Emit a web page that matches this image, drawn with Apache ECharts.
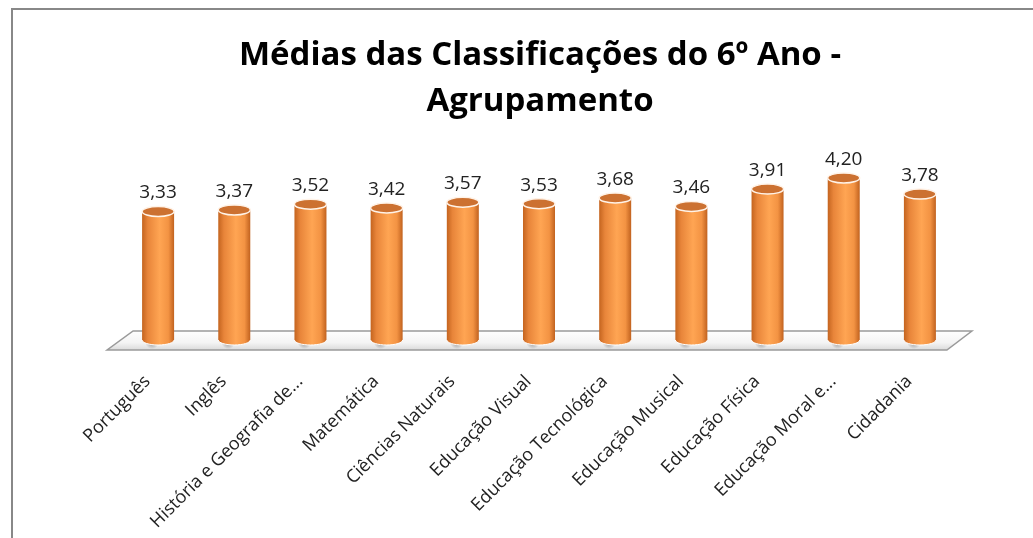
<!DOCTYPE html>
<html>
<head>
<meta charset="utf-8">
<script src="https://cdn.jsdelivr.net/npm/echarts@6/dist/echarts.min.js"></script>
<style>
  html, body { margin: 0; padding: 0; background: #fff; }
  #chart { width: 1033px; height: 538px; }
</style>
</head>
<body>
<div id="chart"></div>
<script>
// dados do gráfico
var disciplinas = ['Português', 'Inglês', 'História e Geografia de...', 'Matemática',
  'Ciências Naturais', 'Educação Visual', 'Educação Tecnológica', 'Educação Musical',
  'Educação Física', 'Educação Moral e...', 'Cidadania'];
var medias = [3.33, 3.37, 3.52, 3.42, 3.57, 3.53, 3.68, 3.46, 3.91, 4.20, 3.78];

var fonte = '"Open Sans", "Noto Sans", sans-serif';
var chart = echarts.init(document.getElementById('chart'));

var dados = medias.map(function (v, i) { return [i, v]; });

function desenhaCilindro(params, api) {
  var i = api.value(0), v = api.value(1);
  var topo = api.coord([i, v]);
  var base = api.coord([i, 0]);
  var w = 32, rx = w / 2, ry = 5;
  var filhos = [];

  // chão 3D (só uma vez)
  if (params.dataIndex === 0) {
    var p0 = api.coord([0, 0]);
    var pN = api.coord([disciplinas.length - 1, 0]);
    var yf = p0[1] + 10, yt = p0[1] - 9;
    filhos.push({
      type: 'polygon',
      shape: { points: [[p0[0] - 51, yf], [pN[0] + 27, yf], [pN[0] + 52, yt], [p0[0] - 25, yt]] },
      style: {
        fill: new echarts.graphic.LinearGradient(0, 0, 0, 1, [
          { offset: 0, color: '#ffffff' },
          { offset: 0.6, color: '#f4f4f4' },
          { offset: 1, color: '#d8d8d8' }
        ]),
        stroke: '#9a9a9a', lineWidth: 1.5
      }
    });
  }

  // sombra na base
  filhos.push({
    type: 'ellipse',
    shape: { cx: base[0] - 6, cy: base[1] + 2, rx: 44, ry: 7 },
    style: {
      fill: new echarts.graphic.RadialGradient(0.5, 0.5, 0.5, [
        { offset: 0, color: 'rgba(0,0,0,0.4)' },
        { offset: 1, color: 'rgba(0,0,0,0)' }
      ])
    }
  });

  var corpo = new echarts.graphic.LinearGradient(0, 0, 1, 0, [
    { offset: 0, color: '#c4641f' },
    { offset: 0.18, color: '#e8853a' },
    { offset: 0.55, color: '#ffa553' },
    { offset: 0.82, color: '#f39343' },
    { offset: 1, color: '#c1621f' }
  ]);

  // base do cilindro
  filhos.push({
    type: 'ellipse',
    shape: { cx: base[0], cy: base[1], rx: rx, ry: ry },
    style: { fill: corpo, stroke: '#ffffff', lineWidth: 1 }
  });
  // corpo
  filhos.push({
    type: 'rect',
    shape: { x: base[0] - rx, y: topo[1], width: w, height: base[1] - topo[1] },
    style: { fill: corpo }
  });
  // topo
  filhos.push({
    type: 'ellipse',
    shape: { cx: topo[0], cy: topo[1], rx: rx, ry: ry },
    style: { fill: '#cc7131', stroke: '#fff3e8', lineWidth: 1.5 }
  });
  // rótulo
  filhos.push({
    type: 'text',
    style: {
      x: topo[0], y: topo[1] - 9,
      text: v.toFixed(2).replace('.', ','),
      fill: '#222', fontSize: 19, fontFamily: fonte,
      align: 'center', verticalAlign: 'bottom'
    }
  });

  return { type: 'group', children: filhos };
}

var option = {
  backgroundColor: '#fff',
  animation: false,
  title: {
    text: 'Médias das Classificações do 6º Ano -\nAgrupamento',
    left: 535,
    textAlign: 'center',
    top: 28,
    textStyle: {
      fontFamily: fonte, fontSize: 33, fontWeight: 'bold',
      color: '#000', lineHeight: 46
    }
  },
  graphic: [{
    type: 'rect',
    shape: { x: 12, y: 9, width: 1040, height: 560 },
    style: { fill: 'none', stroke: '#888', lineWidth: 2 },
    silent: true
  }],
  grid: { left: 120, right: 75, top: 147, bottom: 198 },
  xAxis: {
    type: 'category',
    data: disciplinas,
    axisLine: { show: false },
    axisTick: { show: false },
    axisLabel: {
      rotate: 45, margin: 28, interval: 0,
      padding: [0, 15, 0, 0],
      fontFamily: fonte, fontSize: 18, color: '#222'
    }
  },
  yAxis: {
    type: 'value', min: 0, max: 5,
    show: false
  },
  series: [{
    type: 'custom',
    renderItem: desenhaCilindro,
    data: dados,
    clip: false
  }]
};

chart.setOption(option);
</script>
</body>
</html>
